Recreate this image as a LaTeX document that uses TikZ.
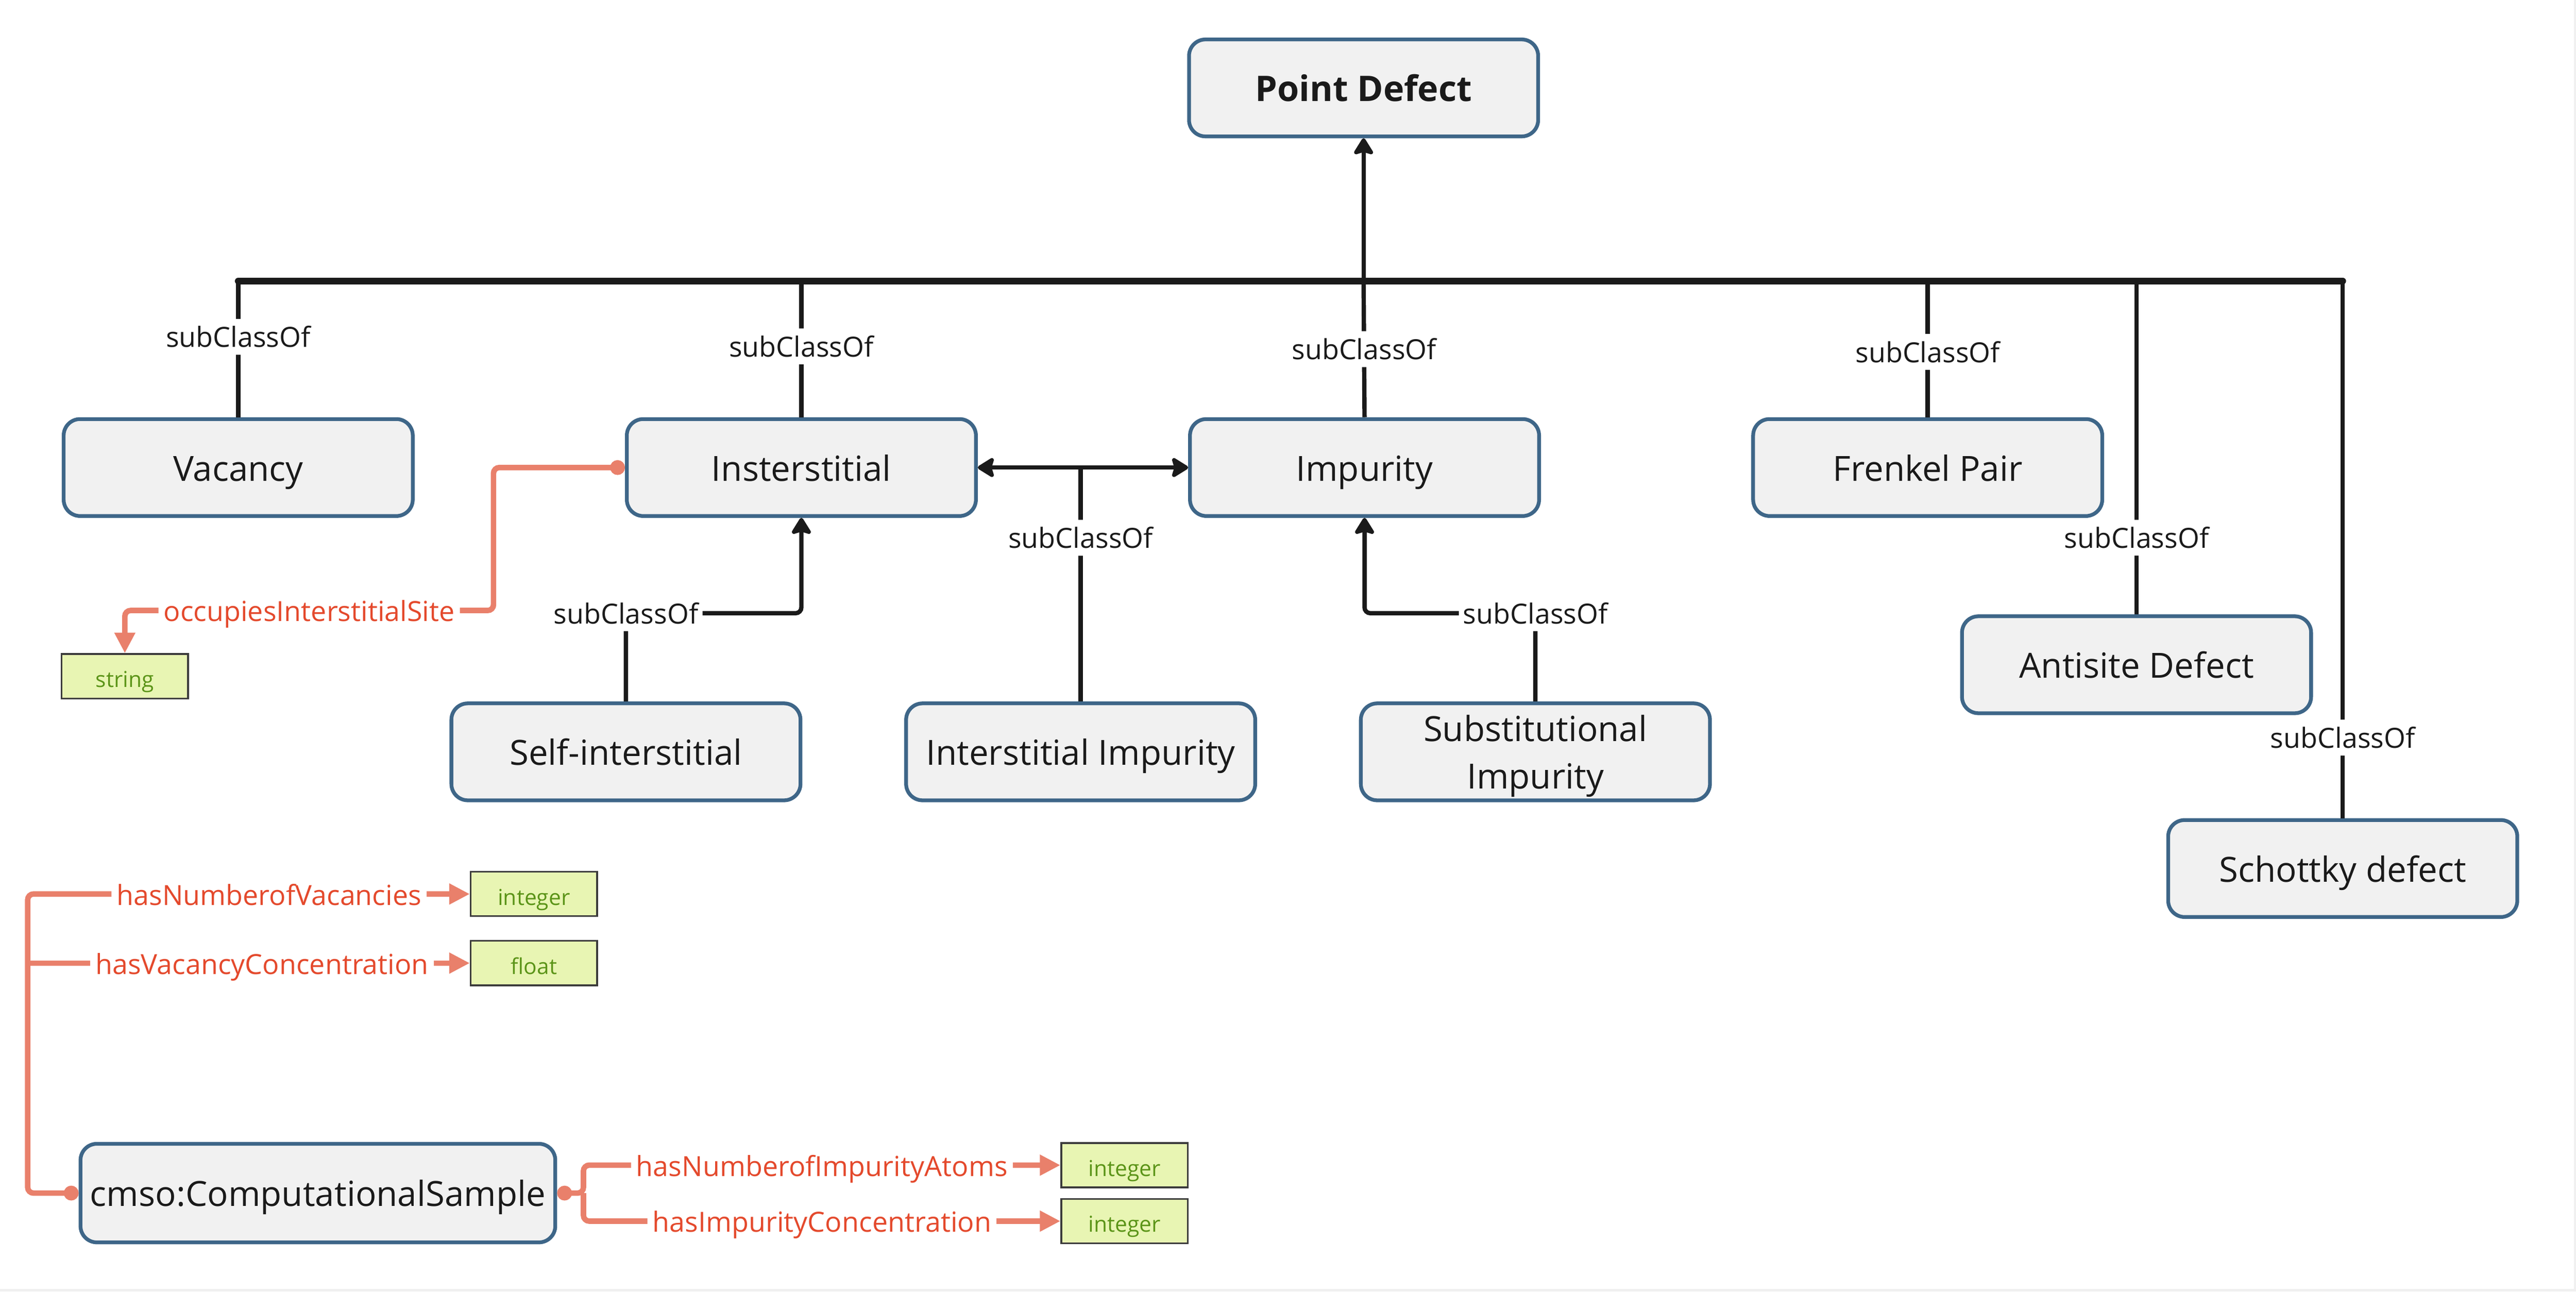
\documentclass[tikz,border=0pt]{standalone}
\usepackage{fontspec}
\setmainfont{Open Sans}
\usepackage{tikz}
\usetikzlibrary{positioning, arrows.meta, calc}

\definecolor{boxfill}{HTML}{F1F1F1}
\definecolor{boxline}{HTML}{3E6688}
\definecolor{edgeblack}{HTML}{1A1A1A}
\definecolor{propcol}{HTML}{E9806B}
\definecolor{proptext}{HTML}{E4492C}
\definecolor{typefill}{HTML}{E8F5B3}
\definecolor{typetext}{HTML}{5B9418}

\tikzstyle{classbox} = [rectangle, rounded corners=0.2cm, draw=boxline, line width=1.3pt, fill=boxfill, minimum width=4.25cm, minimum height=1.18cm, inner ysep=1pt, align=center, text height=0.92em, text depth=0pt, font=\fontsize{12}{16.5}\selectfont, text=edgeblack]
\tikzstyle{typebox} = [rectangle, draw=edgeblack!85, line width=0.6pt, fill=typefill, minimum width=1.54cm, minimum height=0.54cm, text height=0.76em, text depth=0pt, font=\fontsize{7.6}{9}\selectfont, text=typetext]
\tikzstyle{subline} = [draw=edgeblack, line width=1.5pt, rounded corners=2pt, >={Stealth[length=0.23cm,width=0.28cm,inset=0.04cm,round]}]
\tikzstyle{busline} = [draw=edgeblack, line width=2.3pt, line cap=round]
\tikzstyle{sublabel} = [fill=white, inner xsep=1.5pt, inner ysep=2.5pt, font=\fontsize{9.6}{11}\selectfont, text=edgeblack]
\tikzstyle{propline} = [draw=propcol, line width=1.9pt, rounded corners=2pt]
\tikzstyle{dotarrow} = [{Circle[length=0.18cm]}-{Triangle[length=0.25cm,width=0.24cm]}]
\tikzstyle{proparrow} = [-{Triangle[length=0.25cm,width=0.24cm]}]
\tikzstyle{proplabel} = [fill=white, inner xsep=1.8pt, inner ysep=2pt, text height=0.76em, text depth=0pt, font=\fontsize{9.6}{11}\selectfont, text=proptext]

\begin{document}
\begin{tikzpicture}[x=0.2mm, y=-0.2mm, node distance=2.56cm]
  \useasboundingbox (0,0) rectangle (1568,786);
  \fill[black!6] (0,0) rectangle (1568,786);
  \fill[white] (0,0) rectangle (1566.8,784.3);

  % Classes
  \node[classbox, font=\fontsize{12.2}{15}\selectfont\bfseries] (pd) at (830,53.5) {Point Defect};
  \node[classbox] (vac) at (145,284.5) {Vacancy};
  \node[classbox, right=of vac] (ins) {Insterstitial};
  \node[classbox, right=of ins] (imp) {Impurity};
  \node[classbox, right=of imp] (fre) {Frenkel Pair};
  \node[classbox] (ant) at (1300.5,404.5) {Antisite Defect};
  \node[classbox] (sch) at (1426,528.5) {Schottky defect};
  \node[classbox] (si) at (381,457.5) {Self-interstitial};
  \node[classbox, right=1.24cm of si] (ii) {Interstitial Impurity};
  \node[classbox, right=1.24cm of ii, text height={}] (sub) {Substitutional\\Impurity};
  \node[classbox, minimum width=5.78cm, minimum height=1.2cm] (cms) at (193.5,726) {cmso:ComputationalSample};

  % Datatypes
  \node[typebox] (str) at (76,411.5) {string};
  \node[typebox] (intA) at (325,544) {integer};
  \node[typebox, below=0.28cm of intA] (flt) {float};
  \node[typebox] (intB) at (684.5,709) {integer};
  \node[typebox, below=0.12cm of intB] (intC) {integer};

  % subClassOf edges
  \coordinate (hub) at (830,171);
  \draw[busline] (vac.north |- hub) -- (sch.north |- hub);
  \draw[subline, ->] (hub) -- (pd);
  \draw[subline] (vac.north) -- node[sublabel, pos=0.59]{subClassOf} (vac.north |- hub);
  \draw[subline] (ins.north) -- node[sublabel, pos=0.52]{subClassOf} (ins.north |- hub);
  \draw[subline] (imp.north) -- node[sublabel, pos=0.5]{subClassOf} (hub);
  \draw[subline] (fre.north) -- node[sublabel, pos=0.48]{subClassOf} (fre.north |- hub);
  \draw[subline] (ant.north) -- node[sublabel, pos=0.23]{subClassOf} (ant.north |- hub);
  \draw[subline] (sch.north) -- node[sublabel, pos=0.15]{subClassOf} (sch.north |- hub);
  \draw[subline, ->] (si.north) |- node[sublabel]{subClassOf} ($(ins.south)+(0,58)$) -- (ins.south);
  \draw[subline, ->] (sub.north) |- node[sublabel]{subClassOf} ($(imp.south)+(0,58)$) -- (imp.south);
  \draw[subline, <->] (ins) -- (imp);
  \draw[subline] (ii.north) -- node[sublabel, pos=0.7]{subClassOf} (ii.north |- ins.east);

  % Properties
  \draw[propline, dotarrow] (ins.west) -- ++(-80,0) |- node[proplabel, pos=0.75]{occupiesInterstitialSite} ($(str.north)+(0,-26)$) -- (str.north);
  \coordinate (cmsL) at ($(cms.west)+(-31,0)$);
  \coordinate (vbr) at (cmsL |- flt.west);
  \draw[propline, dotarrow] (cms.west) -- (cmsL) |- node[proplabel, pos=0.773]{hasNumberofVacancies} (intA.west);
  \draw[propline, proparrow] (vbr) -- node[proplabel, pos=0.53]{hasVacancyConcentration} (flt.west);
  \coordinate (cmsR) at ($(cms.east)+(16,0)$);
  \draw[propline, dotarrow] (cms.east) -- (cmsR) |- node[proplabel, pos=0.75]{hasNumberofImpurityAtoms} (intB.west);
  \draw[propline, proparrow] (cmsR) |- node[proplabel, pos=0.75]{hasImpurityConcentration} (intC.west);
\end{tikzpicture}
\end{document}
